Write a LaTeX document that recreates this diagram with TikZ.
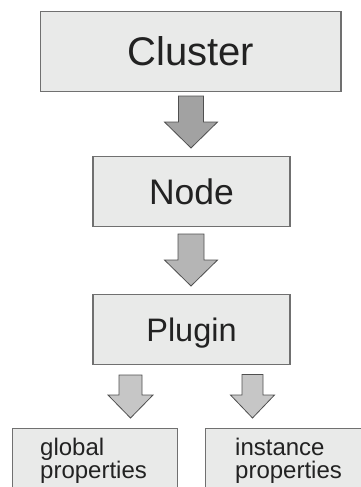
\documentclass[tikz,border=0pt]{standalone}
\usepackage{fontspec}
\setmainfont{Liberation Sans}
\definecolor{boxfill}{HTML}{E9EAE9}
\definecolor{boxline}{HTML}{707070}
\definecolor{arrline}{HTML}{4F4F4F}
\definecolor{arrA}{HTML}{A2A2A2}
\definecolor{arrB}{HTML}{B5B5B5}
\definecolor{arrC}{HTML}{C6C6C6}
\definecolor{txt}{HTML}{222222}
\tikzset{
  box/.style={draw=boxline, fill=boxfill, line width=1.4pt, inner sep=0pt, text=txt, text depth=0pt},
  subtext/.style={text=txt, font=\fontsize{24}{23}\selectfont, align=left, inner sep=0pt},
  barrow/.style={draw=arrline, line width=0.8pt, line join=miter}
}
% #1 top-centre coordinate, #2 shaft half width, #3 shaft length, #4 head half width, #5 head length, #6 fill
\newcommand{\blockarrow}[6]{%
  \draw[barrow, fill=#6] (#1) ++(-#2,0) -- ++(0,#3) -- ++(#2-#4,0) -- ++(#4,#5) -- ++(#4,-#5) -- ++(#2-#4,0) -- ++(0,-#3) -- cycle;}
\begin{document}
\begin{tikzpicture}[x=1pt, y=-1pt]
\useasboundingbox (0,0) rectangle (361,487);
\node[box, text height=28.6pt, minimum width=300.5pt, minimum height=80.5pt, font=\fontsize{40}{44}\selectfont] (cluster) at (190.75,51.5) {Cluster};
\node[box, text height=25.4pt, minimum width=197pt, minimum height=70pt, font=\fontsize{35.5}{40}\selectfont] (node) at (191.5,191.5) {Node};
\node[box, text height=23.3pt, minimum width=197pt, minimum height=70pt, font=\fontsize{32.5}{36}\selectfont] (plugin) at (191.5,329.5) {Plugin};
\node[box, anchor=north west, minimum width=165pt, minimum height=80pt] (global) at (12,428) {};
\node[box, anchor=north west, minimum width=168pt, minimum height=80pt] (instance) at (205,428) {};
\node[subtext, anchor=base west] (globaltxt) at (40,478) {global\\properties};
\node[subtext, anchor=base west] (instancetxt) at (235,478) {instance\\properties};
\coordinate (a1) at (191,96);
\coordinate (a2) at (191,234);
\coordinate (a3) at (130.5,375);
\coordinate (a4) at (252.5,374.5);
\blockarrow{a1}{12.5}{26}{26.5}{26}{arrA}
\blockarrow{a2}{13}{26}{26.5}{26}{arrB}
\blockarrow{a3}{11.5}{20}{22.5}{23}{arrC}
\blockarrow{a4}{10.5}{20.5}{22}{23}{arrC}
\end{tikzpicture}
\end{document}
